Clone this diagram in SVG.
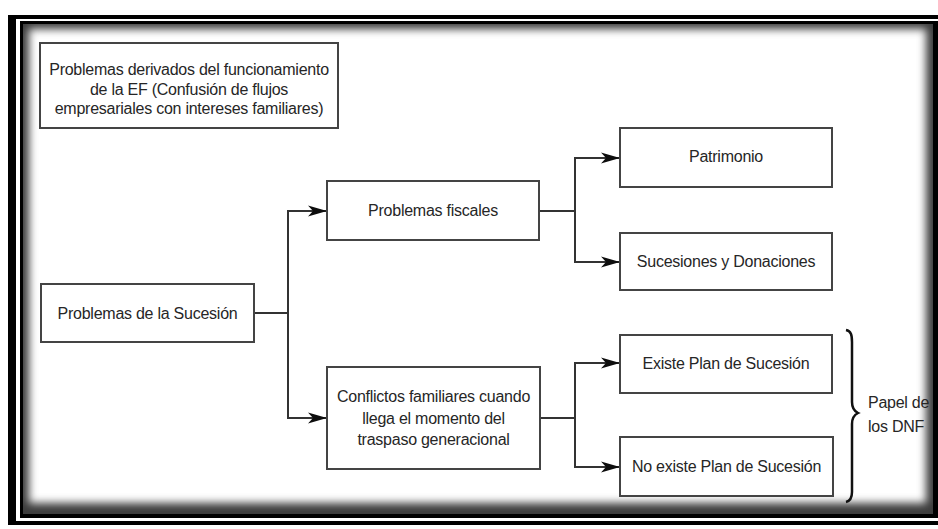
<svg xmlns="http://www.w3.org/2000/svg" width="938" height="529" viewBox="0 0 938 529">
  <style>
    .box { fill: #ffffff; stroke: #444444; stroke-width: 2; }
    .lbl { font-family: "Liberation Sans", Arial, sans-serif; font-size: 16px; letter-spacing: -0.25px; fill: #262626; text-anchor: middle; }
    .side { font-family: "Liberation Sans", Arial, sans-serif; font-size: 16px; letter-spacing: -0.25px; fill: #262626; }
    .conn { fill: none; stroke: #333333; stroke-width: 2; }
  </style>
  <defs>
    <marker id="arrow" markerUnits="userSpaceOnUse" viewBox="0 0 20 12" markerWidth="20" markerHeight="12" refX="19" refY="6" orient="auto">
      <path d="M0,0.5 L19,6 L0,11.5 L5,6 Z" fill="#0d0d0d"/>
    </marker>
    <clipPath id="content">
      <rect x="23" y="24" width="910" height="490"/>
    </clipPath>
    <filter id="soft" x="-5%" y="-5%" width="110%" height="110%">
      <feGaussianBlur stdDeviation="4"/>
    </filter>
  </defs>

  <rect x="0" y="0" width="938" height="529" fill="#ffffff"/>

  <g id="frame">
    <rect x="8" y="15" width="940" height="510" fill="#000000"/>
    <rect x="16" y="19" width="930" height="502" fill="#ffffff"/>
    <rect x="20" y="21" width="930" height="497" fill="#000000"/>
    <g clip-path="url(#content)">
      <rect x="23" y="24" width="910" height="490" fill="#3c3c3c"/>
      <rect x="29" y="29" width="897" height="474" fill="#ffffff" filter="url(#soft)"/>
    </g>
  </g>

  <g id="connectors">
    <path class="conn" d="M254,313 H288"/>
    <path class="conn" d="M288,313 V211 H327" marker-end="url(#arrow)"/>
    <path class="conn" d="M288,313 V418 H327" marker-end="url(#arrow)"/>
    <path class="conn" d="M539,211 H575"/>
    <path class="conn" d="M575,211 V158 H620" marker-end="url(#arrow)"/>
    <path class="conn" d="M575,211 V262 H620" marker-end="url(#arrow)"/>
    <path class="conn" d="M540,418 H575"/>
    <path class="conn" d="M575,418 V363 H620" marker-end="url(#arrow)"/>
    <path class="conn" d="M575,418 V467 H620" marker-end="url(#arrow)"/>
  </g>

  <g id="node-derivados">
    <rect class="box" x="40" y="43" width="298" height="85"/>
    <text class="lbl" x="189" y="75">Problemas derivados del funcionamiento</text>
    <text class="lbl" x="189" y="94.5">de la EF (Confusión de flujos</text>
    <text class="lbl" x="189" y="114">empresariales con intereses familiares)</text>
  </g>

  <g id="node-sucesion">
    <rect class="box" x="41" y="284" width="213" height="58"/>
    <text class="lbl" x="147.5" y="319">Problemas de la Sucesión</text>
  </g>

  <g id="node-fiscales">
    <rect class="box" x="327" y="181" width="212" height="59"/>
    <text class="lbl" x="433" y="216">Problemas fiscales</text>
  </g>

  <g id="node-conflictos">
    <rect class="box" x="327" y="367" width="213" height="102"/>
    <text class="lbl" x="433.5" y="402">Conflictos familiares cuando</text>
    <text class="lbl" x="433.5" y="423.5">llega el momento del</text>
    <text class="lbl" x="433.5" y="445">traspaso generacional</text>
  </g>

  <g id="node-patrimonio">
    <rect class="box" x="620" y="128" width="212" height="59"/>
    <text class="lbl" x="726" y="162">Patrimonio</text>
  </g>

  <g id="node-donaciones">
    <rect class="box" x="620" y="233" width="212" height="57"/>
    <text class="lbl" x="726" y="267">Sucesiones y Donaciones</text>
  </g>

  <g id="node-existe">
    <rect class="box" x="620" y="335" width="212" height="58"/>
    <text class="lbl" x="726" y="369">Existe Plan de Sucesión</text>
  </g>

  <g id="node-noexiste">
    <rect class="box" x="620" y="437" width="213" height="59"/>
    <text class="lbl" x="726.5" y="472">No existe Plan de Sucesión</text>
  </g>

  <g id="node-dnf">
    <path d="M846,330 C851,331 852,335 852,342 L852,402 C852,408 854,411 858,413 C854,415 852,418 852,424 L852,492 C852,498 850,501 846,502" fill="none" stroke="#111111" stroke-width="2.5"/>
    <text class="side" x="868" y="408">Papel de</text>
    <text class="side" x="868" y="432">los DNF</text>
  </g>
</svg>
